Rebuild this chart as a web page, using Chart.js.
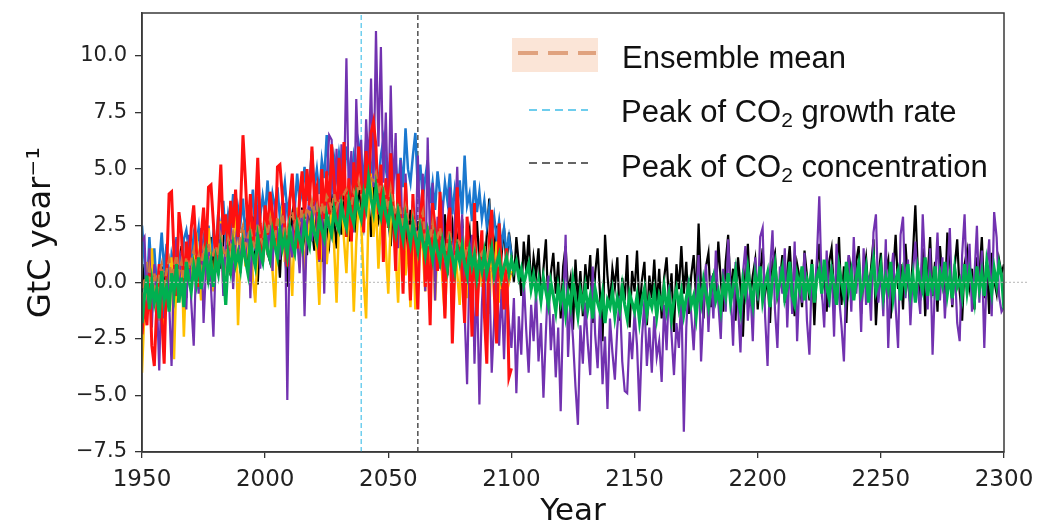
<!DOCTYPE html>
<html><head><meta charset="utf-8">
<script src="https://cdn.jsdelivr.net/npm/chart.js@4.4.0/dist/chart.umd.min.js"></script>
<style>html,body{margin:0;padding:0;background:#fff;}#wrap{width:1059px;height:527px;}</style>
</head><body><div id="wrap"><canvas id="c" width="1059" height="527"></canvas></div>
<script>
const START_YEAR = 1950;
const Y_MIN = -7.5, Y_MAX = 11.9;
const xTicks = [1950, 2000, 2050, 2100, 2150, 2200, 2250, 2300];
const yTicks = [-7.5, -5.0, -2.5, 0.0, 2.5, 5.0, 7.5, 10.0];
const peakGrowthYear = 2039;
const peakConcYear = 2062;
const years = [];
for (let y = 1950; y <= 2300; y++) years.push(y);

// 1950-2100
const blue = [
2.5, 1.0, -0.6, 2.0, 0.2, 1.5, -0.3, 0.8, 2.2, 0.5,
1.7, -0.2, 1.2, 0.6, 2.0, 1.1, 0.3, 1.9, 2.3, 1.4,
0.9, 2.1, 1.6, 2.4, 0.8, 1.9, 1.2, 2.5, 1.0, 2.2,
1.5, 3.1, 2.0, 3.6, 1.8, 3.0, 2.4, 3.9, 2.1, 3.3,
2.6, 3.7, 1.9, 3.2, 2.8, 4.1, 2.3, 3.5, 2.9, 3.8,
3.0, 4.5, 2.6, 3.9, 3.3, 4.2, 2.8, 3.6, 4.4, 3.1,
3.7, 4.3, 3.2, 4.8, 3.5, 4.0, 5.1, 3.6, 4.5, 5.8,
4.2, 5.0, 3.9, 5.4, 4.6, 6.5, 4.8, 4.1, 5.5, 4.7,
5.7, 4.9, 4.3, 6.0, 5.2, 4.6, 5.6, 4.9, 6.1, 5.3,
4.8, 6.2, 5.4, 4.7, 5.9, 5.1, 4.4, 5.6, 6.3, 5.0,
4.3, 5.7, 4.6, 5.3, 4.0, 5.5, 4.2, 6.8, 5.0, 4.4,
5.6, 6.6, 4.1, 5.2, 3.7, 4.6, 5.4, 3.5, 4.4, 3.2,
4.9, 3.9, 3.1, 4.4, 3.6, 4.8, 3.0, 4.1, 3.3, 4.5,
3.0, 5.6, 3.4, 3.9, 2.7, 4.5, 3.1, 4.0, 2.8, 3.6,
2.5, 3.3, 2.1, 2.9, 1.9, 2.7, 1.6, 2.4, 1.3, 2.0,
1.2
];
const red = [
-2.3, -0.8, -1.9, 0.4, -2.8, -3.7, -1.0, 0.8, -1.5, -3.6,
0.5, 3.9, 4.0, 1.2, -0.6, 3.1, 2.2, -0.3, 1.8, 0.6,
2.4, 3.4, 1.5, -0.2, 2.0, 3.3, 1.2, 4.2, 4.3, 2.6,
0.8, 2.9, 5.2, 2.1, 3.0, 1.4, 3.6, 2.4, 4.1, 2.0,
3.2, 6.5, 4.5, 2.2, 3.9, 1.6, 3.0, 5.5, 2.6, 0.9,
3.4, 2.1, 4.0, 3.0, 1.5, 5.1, 5.2, 3.8, 2.3, 0.7,
3.6, 4.8, 2.6, 1.5, 3.8, 4.9, 2.8, 5.0, 3.4, 6.0,
3.7, 4.2, 1.0, 5.0, 2.8, 4.9, 3.0, 6.1, 4.5, 2.5,
5.5, 3.4, 6.2, 2.0, 4.6, 1.8, 5.3, 3.6, 6.0, 4.4,
2.2, 5.8, 4.0, 6.6, 7.1, 6.0, 3.0, 5.2, 0.9, 4.6,
2.4, 5.7, 3.3, 0.5, 4.8, 2.8, -0.5, 4.4, 2.0, -0.8,
3.9, 1.2, -1.2, 2.8, 4.1, -0.2, 1.6, -1.9, 3.5, 2.4,
0.5, 4.0, 1.1, -1.6, 2.5, 3.3, -2.7, 0.6, 4.2, 1.8,
0.3, -1.8, 2.9, 1.0, -2.4, 3.5, -1.5, 0.8, 2.3, -1.4,
-3.6, 1.9, 3.2, -0.4, -2.7, 2.6, 0.4, -1.2, 1.5, -4.2,
-3.8
];
const yellow = [
-4.0, -1.2, 0.9, -0.5, 1.5, -0.8, 0.3, -1.7, 0.6, -2.0,
0.2, -1.0, 1.1, -3.4, 0.4, -0.6, 1.3, -2.4, 0.8, 1.9,
-0.3, 1.0, 2.2, 0.5, -0.8, 1.6, 0.1, 2.4, 0.9, -0.4,
1.8, 0.6, 2.7, -0.1, 1.2, 2.0, 0.4, 1.5, 2.9, -1.9,
1.3, 2.3, 0.7, 1.9, 3.0, 0.2, -0.9, 1.6, 2.6, 0.8,
2.1, 1.2, 3.2, 0.5, -1.1, 2.4, 1.5, 3.4, 0.9, 2.2,
1.4, -0.6, 2.5, 3.3, 1.0, 2.1, 0.2, 2.9, 1.7, 3.6,
2.4, 1.3, -1.0, 2.6, 3.5, 0.8, 2.2, 3.1, 1.6, -0.9,
2.8, 3.7, 1.9, 0.4, 3.0, 2.2, -1.3, 1.8, 3.5, 2.6,
0.1, -1.6, 3.2, 4.8, 2.0, 3.5, 0.6, 2.7, 4.0, 1.5,
-0.5, 2.8, 3.6, 1.2, -0.9, 2.5, 3.3, 0.3, 1.9, -1.1,
2.2, -1.2, 0.9, 2.9, 1.4, -0.4, 2.5, 0.6, 1.8, -0.8,
1.6, 2.8, 0.0, -1.5, 1.2, 2.2, -0.6, 1.9, 0.4, -1.0,
2.4, 1.0, -0.7, 1.7, 0.3, 2.0, -1.3, 1.1, -0.2, 1.6,
0.5, -1.4, 1.3, 0.1, 1.8, -0.9, 0.7, -0.3, 1.2, 0.0,
0.5
];
const ensembleMean = [
-0.8, 0.2, -0.5, 0.6, -0.2, 0.4, -0.6, 0.3, 0.8, -0.1,
0.5, 1.0, 0.2, 0.7, 1.2, 0.4, 0.9, 0.1, 1.1, 0.6,
1.0, 1.4, 0.8, 1.2, 0.6, 1.5, 1.1, 1.7, 0.9, 1.3,
1.6, 1.2, 2.0, 1.4, 1.1, 1.9, 1.5, 2.2, 1.7, 1.3,
2.1, 2.5, 1.6, 2.0, 2.4, 1.8, 1.5, 2.6, 2.0, 1.7,
2.5, 2.1, 2.8, 2.3, 1.9, 2.9, 2.4, 3.0, 2.2, 2.0,
2.8, 3.1, 2.5, 2.9, 2.6, 3.2, 2.7, 3.3, 3.0, 3.6,
3.1, 3.4, 2.7, 3.5, 3.0, 3.8, 3.6, 3.2, 3.9, 3.3,
3.7, 3.5, 3.9, 4.1, 3.6, 3.4, 4.0, 3.7, 4.4, 3.9,
3.6, 4.2, 4.0, 4.6, 4.5, 4.8, 3.9, 4.3, 4.2, 3.7,
3.2, 4.1, 3.4, 3.0, 3.5, 3.1, 2.4, 3.3, 2.8, 2.1,
3.0, 2.5, 2.1, 2.7, 3.1, 1.8, 2.4, 1.9, 2.6, 1.5,
2.0, 2.4, 1.6, 1.1, 1.8, 2.3, 1.2, 1.0, 1.9, 1.7,
1.4, 1.0, 1.6, 1.3, 0.6, 1.5, 0.7, 1.1, 1.3, 0.5,
0.8, 1.4, 0.6, 0.3, 1.0, 0.7, 0.2, 0.6, 0.9, 0.1,
0.4
];
// 1950-2300
const purple = [
1.8, 2.0, -1.0, 1.5, -2.0, 0.8, -0.5, -3.9, 0.6, -1.6,
1.2, -0.8, -3.7, 0.5, 1.9, -0.4, 1.4, 0.2, -1.2, 2.1,
-0.9, -2.8, 1.0, -0.5, 2.4, -1.8, 0.7, 1.6, -0.2, -2.4,
1.3, 0.3, 2.6, -0.6, 1.9, 0.9, 3.0, -0.3, 1.7, 2.8,
0.4, 2.2, 1.0, 3.1, -0.7, 2.5, 1.4, 3.4, 0.6, 2.0,
3.3, 1.2, 2.7, 0.5, 3.6, 2.1, 1.0, 2.9, 3.5, -5.2,
2.4, 1.1, 3.6, 2.0, 0.4, 3.2, -1.5, 2.6, 3.9, 1.8,
4.4, 2.5, 0.9, 3.8, -0.5, 4.6, 6.5, 6.3, 3.2, 5.9,
2.6, 6.1, 4.0, 9.9, 3.5, 5.8, 2.2, 8.1, 4.9, 6.3,
3.0, 7.2, 5.0, 9.0, 4.2, 11.1, 6.0, 10.4, 4.4, 7.5,
2.8, 8.7, 3.9, 6.6, 1.5, 5.4, 0.7, 4.8, 2.3, 0.3,
3.6, 1.1, 5.6, 2.0, 4.8, -0.4, 6.4, 1.5, 4.4, -0.8,
2.9, 0.6, 3.6, -1.2, 1.8, 4.2, -0.5, 2.7, 5.1, 1.2,
3.0, -1.4, -4.5, 0.9, 2.1, -3.6, 0.3, -5.4, -1.0, 1.4,
-2.5, 0.5, -4.0, -1.6, 1.0, -2.8, -0.3, -3.4, 0.2, -1.8,
-2.9, -0.7, -4.9, -1.5, -3.2, 0.2, -2.1, -4.0, -1.0, -2.6,
-0.4, -3.5, -1.8, -5.1, -2.2, 0.3, -3.0, -1.4, -4.2, -2.0,
-5.7, -1.2, 2.1, -3.3, -0.8, -2.5, -4.6, -6.3, -1.9, -3.6,
-0.9, -2.7, -4.1, 0.7, -2.3, -3.8, -1.1, -4.5, -2.4, -5.6,
-1.6, -3.1, -4.3, -2.0, -0.6, -3.5, -4.8, -4.9, -2.2, -3.4,
-1.3, -2.8, -5.7, -2.5, -0.8, -3.7, -2.0, -4.0, -1.5, -3.3,
-2.6, -4.4, -1.0, -3.0, -0.1, -2.3, -4.1, -1.8, -2.9, -0.5,
-6.6, -2.0, 0.2, -1.4, -3.0, -0.6, 1.2, -3.5, -1.1, 0.8,
-2.2, 0.3, -1.6, 1.4, -0.9, -2.5, 0.6, -1.3, 1.9, -0.4,
-2.8, 0.9, -1.0, -3.1, 0.4, 1.6, -1.7, -0.2, -2.6, 1.1,
-0.8, 2.0, 2.4, -1.5, -3.7, 0.5, 2.3, -1.2, -2.9, 0.7,
-0.5, 1.5, -2.0, 0.9, -1.4, 1.8, -2.6, 0.2, -0.9, 1.3,
-1.7, -3.2, 0.6, -0.7, 1.0, 3.8, -0.3, -2.0, 1.4, -1.1,
0.8, -2.4, 1.7, -0.6, -1.9, -3.5, 0.4, 1.2, -1.3, 2.0,
-0.5, 0.9, -2.2, 1.5, -1.0, 0.3, -1.7, 2.2, 3.0, -0.9,
0.6, -1.5, 1.9, -2.9, 0.2, 1.3, -1.1, -2.9, 2.1, 2.9,
-0.7, 1.0, -1.9, 0.4, 1.8, -0.3, -1.4, 3.0, 0.6, -1.2,
1.5, -3.2, 0.0, 2.2, -0.8, 1.1, -1.6, 0.5, 2.4, -1.0,
0.8, -1.8, -2.6, 1.2, 3.0, -0.4, 1.7, -1.3, 0.3, 2.5,
-0.9, 1.4, -2.9, 0.5, 1.9, -1.5, 3.1, 2.0, -0.6, -1.3,
-1.1
];
const black = [
-0.5, 0.8, -1.3, 0.4, -0.8, 1.0, 0.0, -1.5, 0.7, -0.4,
1.1, -0.6, 0.5, 1.4, -0.9, 0.6, 1.6, 0.2, -0.7, 1.2,
0.4, 1.7, -0.3, 1.0, 1.9, 0.5, 1.3, -0.1, 2.0, 0.8,
1.5, 2.3, 0.6, 1.8, 2.6, 1.1, 0.3, 2.2, 1.4, 2.8,
1.0, 1.9, 2.5, 0.7, 1.6, 2.9, 1.2, -0.1, 2.3, 1.5,
2.7, 1.3, 0.9, 2.4, 3.1, 1.8, 0.2, 2.6, 1.4, -0.2,
2.2, 3.0, 1.6, 2.5, 0.8, 3.3, 2.0, 1.2, 3.5, 2.3,
1.4, 3.2, 2.6, 0.9, 3.6, 2.4, 1.7, 3.9, 2.8, 1.5,
3.4, 2.1, 4.0, 2.9, 1.8, 3.7, 3.0, 2.2, 4.3, 3.3,
2.5, 4.1, 3.6, 2.0, 4.4, 3.1, 2.7, 3.8, 2.3, 3.5,
2.9, 1.6, 3.4, 2.4, 3.9, 1.9, 3.0, 2.6, 1.4, 3.2,
2.1, 0.1, 2.7, 1.5, 3.3, 1.0, 2.4, 0.4, 2.9, 1.7,
0.6, 2.2, 1.1, 3.0, 0.3, 1.9, 2.6, 0.8, 2.0, 1.3,
2.8, 0.5, 1.6, 2.3, 0.2, 1.4, 2.7, 0.9, 1.8, 0.4,
2.1, 3.7, 0.6, 1.5, 2.5, 0.1, 1.2, 2.4, 0.7, 2.2,
1.3, 0.0, 2.0, 0.8, -0.6, 1.8, 0.5, 2.1, -0.3, 1.1,
0.3, 1.5, -0.8, 0.6, 1.9, -1.2, 0.4, 1.3, -0.5, 0.9,
-1.6, 0.7, 1.6, -0.4, 0.2, -2.1, 1.0, -0.9, 0.5, -1.5,
0.8, -0.3, 1.2, -1.8, 0.4, 1.5, -0.6, -2.6, 2.1, 0.3,
-1.0, 0.6, -0.2, 1.1, -1.7, 0.2, -0.8, 1.2, -2.0, 0.5,
-0.4, 1.4, -1.3, 0.1, 0.9, -1.9, 0.3, -0.7, 1.0, -1.1,
0.6, -1.6, 0.2, 1.1, -0.9, 0.4, -2.2, 0.8, -0.3, 1.6,
-0.5, 0.9, -1.4, 0.3, 1.2, -0.8, 2.6, -0.2, -1.6, 0.7,
1.3, -1.1, 0.4, -0.6, 1.8, 0.1, -1.3, 0.9, 2.1, -0.4,
0.6, -1.7, 1.1, -0.2, -2.4, 0.5, 1.7, -0.7, 0.3, 1.0,
-1.2, 0.4, 1.5, -0.5, 0.2, -1.8, 0.9, 1.3, -0.6, 0.0,
1.2, -0.9, 0.5, 1.6, -0.3, -1.5, 0.8, 0.2, -1.1, 1.4,
0.3, -0.8, 1.0, -1.9, 0.6, 1.7, -0.4, 0.2, -1.3, 0.9,
1.5, -0.6, 0.1, 2.0, -1.0, 0.7, -1.8, 1.2, 0.4, -0.7,
0.9, 1.6, -1.4, 0.3, 1.1, -0.5, 0.6, 1.9, -1.9, 0.2,
1.3, -0.9, 0.5, 1.0, -1.6, 0.4, 2.1, -0.3, 0.8, -1.2,
1.7, 0.0, -1.0, 1.2, 3.4, 0.6, -0.8, 1.5, -1.5, 0.3,
2.0, -0.6, 0.9, -1.3, 1.6, 0.2, -0.9, 2.2, 0.5, -1.1,
0.7, 1.9, -0.4, -1.7, 0.8, 1.4, -0.2, 0.6, -1.2, 1.1,
0.3, 2.0, -0.7, 0.9, -1.4, 1.3, 0.1, -0.5, 1.0, 0.4,
0.8
];
const green = [
-1.8, -0.6, 0.3, -1.2, 0.0, -0.9, -0.3, -1.6, 0.5, -0.8,
-0.2, -1.3, 0.4, -0.5, 0.8, -0.9, 0.2, -1.1, 0.9, 0.1,
-0.4, 0.7, 0.0, 1.1, -0.3, 0.6, 1.3, 0.2, 0.9, -0.2,
1.0, 0.4, 1.5, 0.7, -1.0, 1.2, 0.5, 1.6, 0.8, 1.3,
0.6, 1.7, 1.0, 0.4, 1.9, 1.2, 0.7, 2.0, 1.3, 0.9,
2.1, 1.4, 1.0, 2.2, 1.6, 1.1, 2.3, 1.5, 2.0, 1.2,
2.4, 1.7, 1.3, 2.5, 1.9, 1.5, 2.6, 2.0, 1.6, 2.8,
2.2, 1.8, 2.9, 2.3, 1.9, 3.0, 2.5, 2.1, 3.2, 2.6,
2.3, 3.4, 2.8, 2.4, 3.6, 3.0, 2.6, 3.8, 3.2, 2.8,
3.9, 3.3, 4.6, 3.7, 3.1, 4.2, 3.4, 2.9, 3.8, 3.0,
2.6, 3.5, 2.8, 2.2, 3.1, 2.5, 1.9, 2.9, 2.3, 1.7,
2.6, 2.0, 1.4, 2.4, 1.8, 1.2, 2.2, 1.6, 1.0, 2.0,
1.4, 0.9, 1.8, 1.2, 0.6, 1.7, 1.1, 0.5, 1.5, 0.9,
1.6, 0.8, 0.3, 1.4, 0.7, 1.2, 0.2, 1.0, 0.5, 1.3,
0.4, 0.9, 1.5, 0.3, 0.8, 1.2, 0.2, 0.7, 1.1, 0.4,
1.0, 0.5, 0.9, 0.2, 0.6, -0.1, 0.4, 0.8, -0.3, 0.3,
-0.5, 0.1, -0.8, 0.2, -0.4, -1.0, 0.0, -0.6, -1.3, -0.2,
-0.9, -0.3, -1.4, -0.5, -1.1, 0.1, -0.7, -1.5, -0.4, -1.0,
-0.2, -1.2, -0.6, -1.6, -0.3, -0.9, -1.3, -0.5, -1.8, -0.8,
-1.1, -0.4, -1.5, -0.7, -1.2, -0.2, -1.0, -1.6, -0.5, -0.9,
-1.3, -0.6, -1.7, -0.8, -0.3, -1.4, -0.7, -1.1, -0.4, -1.5,
-0.6, -1.0, -0.2, -1.2, -0.5, -1.6, -0.8, -0.3, -1.1, -0.4,
-1.4, -0.7, -0.1, -1.0, -0.6, -1.5, -0.2, -0.9, 0.1, -0.5,
-1.1, -0.3, 0.2, -0.8, -0.4, -1.2, 0.0, -0.6, 0.4, -0.9,
-0.2, 0.5, -0.7, -1.3, 0.1, -0.5, 0.6, -0.3, -1.0, 0.3,
-0.4, 0.7, -0.8, -0.1, 0.4, -1.1, 0.2, 0.8, -0.5, 0.0,
0.6, -0.7, -0.2, 0.9, -0.6, -1.0, 0.3, -0.3, 0.7, -0.8,
0.1, -0.4, 0.8, -0.9, 0.2, 0.6, -0.5, 1.0, -0.2, -0.7,
0.5, -0.1, -1.0, 0.7, 0.0, -0.6, 0.9, -0.3, 0.4, -0.8,
0.2, 0.8, -0.5, -0.1, 0.6, -0.9, 0.3, 1.0, -0.4, 0.0,
0.7, -0.6, 0.2, -0.3, 0.9, -0.7, 0.1, 0.5, -0.8, 0.4,
-0.2, 0.8, -0.5, 0.3, -0.9, 0.6, 0.0, -0.4, 1.1, -0.6,
0.2, -0.3, 0.7, -0.8, 0.4, -0.1, 0.9, -0.5, 0.3, -0.7,
0.6, -0.2, 0.1, -0.6, 0.8, -0.4, 0.5, 0.0, -0.8, 0.7,
-0.3, 0.4, -0.6, 0.9, 0.2, -0.5, 0.6, -0.1, 0.8, 0.3,
-1.2
];

const legendLabels = ['Ensemble mean', 'Peak of CO|2| growth rate', 'Peak of CO|2| concentration'];

function toXY(values) { return values.map((v, i) => ({ x: years[i], y: v })); }
function line(label, values, color, width, order, extra) {
  return Object.assign({ label, data: toXY(values), borderColor: color, backgroundColor: color,
    borderWidth: width, pointRadius: 0, tension: 0, fill: false, order }, extra || {});
}

const zeroLinePlugin = {
  id: 'zeroLine',
  afterDatasetsDraw(chart) {
    const { ctx, chartArea, scales } = chart;
    const y = scales.y.getPixelForValue(0);
    ctx.save();
    ctx.strokeStyle = '#b5b5b5'; ctx.lineWidth = 1; ctx.setLineDash([2, 2]);
    ctx.beginPath(); ctx.moveTo(chartArea.left + 3, y); ctx.lineTo(chartArea.right + 24, y); ctx.stroke();
    ctx.restore();
  }
};
const framePlugin = {
  id: 'frame',
  afterDraw(chart) {
    const { ctx, chartArea: a } = chart;
    ctx.save(); ctx.strokeStyle = '#3a3a3a'; ctx.lineWidth = 1.5;
    ctx.strokeRect(a.left, a.top, a.right - a.left, a.bottom - a.top); ctx.restore();
  }
};
function richText(ctx, text, x, y) {
  const parts = text.split('|');
  parts.forEach((p, i) => {
    const sub = i % 2 === 1;
    ctx.font = sub ? '21px "Liberation Sans", Arial, sans-serif' : '31px "Liberation Sans", Arial, sans-serif';
    ctx.fillText(p, x, y + (sub ? 5 : 0));
    x += ctx.measureText(p).width;
  });
}
const legendPlugin = {
  id: 'customLegend',
  afterDraw(chart) {
    const { ctx, chartArea: a } = chart;
    const x0 = a.left + 370;
    const top = a.top;
    ctx.save();
    ctx.textBaseline = 'alphabetic';
    ctx.fillStyle = 'rgba(246,190,155,0.4)';
    ctx.fillRect(x0, top + 25, 86, 34);
    ctx.strokeStyle = '#e0a27e'; ctx.lineWidth = 4; ctx.setLineDash([20, 10]);
    ctx.beginPath(); ctx.moveTo(x0 + 6, top + 40); ctx.lineTo(x0 + 84, top + 40); ctx.stroke();
    ctx.strokeStyle = '#3fbde8'; ctx.lineWidth = 1.6; ctx.setLineDash([8, 5]);
    ctx.beginPath(); ctx.moveTo(x0 + 17, top + 97); ctx.lineTo(x0 + 76, top + 97); ctx.stroke();
    ctx.strokeStyle = '#333'; ctx.lineWidth = 1.6;
    ctx.beginPath(); ctx.moveTo(x0 + 17, top + 150); ctx.lineTo(x0 + 76, top + 150); ctx.stroke();
    ctx.setLineDash([]);
    ctx.fillStyle = '#111';
    richText(ctx, legendLabels[0], x0 + 110, top + 55);
    richText(ctx, legendLabels[1], x0 + 109, top + 109);
    richText(ctx, legendLabels[2], x0 + 109, top + 164);
    ctx.restore();
  }
};

const datasets = [
  line('Model G', green, '#00b050', 3.2, 1),
  line('Ensemble mean', ensembleMean, '#d2753a', 2.5, 2, { borderDash: [8, 4] }),
  line('Model R', red, '#ff1010', 3, 3),
  line('Model P', purple, '#7232b0', 2.2, 4),
  line('Model Y', yellow, '#ffc000', 2.5, 5),
  line('Model B', blue, '#1a78cf', 2.5, 6),
  line('Model K', black, '#000000', 2.2, 7),
  { label: 'Peak of CO2 growth rate', data: [{ x: peakGrowthYear, y: Y_MIN }, { x: peakGrowthYear, y: Y_MAX }],
    borderColor: '#4cc3ea', borderWidth: 1.2, borderDash: [5, 3], pointRadius: 0, order: 8 },
  { label: 'Peak of CO2 concentration', data: [{ x: peakConcYear, y: Y_MIN }, { x: peakConcYear, y: Y_MAX }],
    borderColor: '#444', borderWidth: 1.4, borderDash: [5, 3], pointRadius: 0, order: 9 }
];

new Chart(document.getElementById('c'), {
  type: 'line',
  data: { datasets },
  options: {
    responsive: false, animation: false, devicePixelRatio: 1,
    layout: { padding: { left: 0, right: 55, top: 13, bottom: 0 } },
    plugins: { legend: { display: false }, tooltip: { enabled: false } },
    scales: {
      x: {
        type: 'linear', min: 1950, max: 2300,
        afterBuildTicks: s => { s.ticks = xTicks.map(v => ({ value: v })); },
        afterFit: s => { s.height = 75; s.paddingLeft = 0; s.paddingRight = 0; },
        ticks: { autoSkip: false, maxRotation: 0, padding: 8, color: '#222',
          font: { family: 'DejaVu Sans', size: 23 }, callback: v => String(v) },
        grid: { display: true, drawOnChartArea: false, drawTicks: true, tickLength: 6, color: '#333', lineWidth: 1.3 },
        border: { display: true, color: '#3a3a3a', width: 1.5 },
        title: { display: true, text: 'Year', color: '#111', font: { family: 'DejaVu Sans', size: 31 }, padding: { top: 0, bottom: -4 } }
      },
      y: {
        type: 'linear', min: Y_MIN, max: Y_MAX,
        afterBuildTicks: s => { s.ticks = yTicks.map(v => ({ value: v })); },
        afterFit: s => { s.width = 142; s.paddingTop = 0; s.paddingBottom = 0; },
        ticks: { autoSkip: false, padding: 8, color: '#222', font: { family: 'DejaVu Sans', size: 21 },
          callback: v => (v < 0 ? '\u2212' : '') + Math.abs(v).toFixed(1) },
        grid: { display: true, drawOnChartArea: false, drawTicks: true, tickLength: 7, color: '#333', lineWidth: 1.3 },
        border: { display: true, color: '#3a3a3a', width: 1.5 },
        title: { display: true, text: 'GtC year\u207B\u00B9', color: '#111', font: { family: 'DejaVu Sans', size: 32 }, padding: { top: 22, bottom: 0 } }
      }
    }
  },
  plugins: [zeroLinePlugin, framePlugin, legendPlugin]
});
</script>
</body></html>
